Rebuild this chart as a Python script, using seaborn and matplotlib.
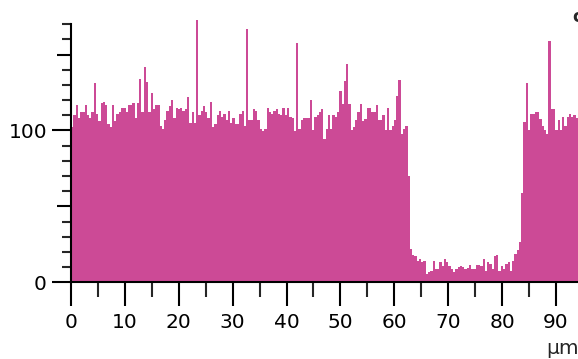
import numpy as np
import pandas as pd
import matplotlib
matplotlib.use("Agg")
import matplotlib.pyplot as plt
import seaborn as sns

# Line-profile intensity, one value per sample along the scan line
step_um = 0.422  # sampling step along the profile (µm)

profile_a = [102, 110, 117, 108, 112, 112, 117, 110, 108, 112, 131, 111, 106, 118,
             119, 117, 104, 102, 117, 106, 111, 112, 115, 115, 112, 117, 117, 118,
             108, 118, 134, 112, 142, 132, 112, 125, 114, 117]
profile_b = [117, 103, 101, 107, 113, 116, 120, 108, 115, 114, 115, 113, 114, 122,
             105, 112, 105, 173, 110, 113, 116, 112, 108, 119, 102, 104, 110, 113,
             109, 111, 107, 113, 105, 108, 104, 104, 111, 113]
profile_c = [103, 167, 107, 107, 114, 113, 107, 101, 99.5, 101, 115, 112, 111, 113,
             114, 111, 110, 115, 110, 115, 109, 108, 99.5, 158, 101, 107, 108, 108,
             108, 120, 100, 109, 110, 112, 114, 94.5, 101, 110]
profile_d = [101, 110, 109, 112.5, 126, 117.6, 132.5, 144, 117.6, 100, 102.6, 106.6,
             112, 117.6, 106, 107.7, 115, 115, 112, 112, 117, 106.6, 106.6, 110,
             100.5, 115, 100, 103, 107, 123, 133, 98, 101, 103]
profile_gap = [70, 22, 17.6, 17, 14.3, 15, 13.2, 14.3, 5.5, 7, 7.7, 14.3, 8.8, 8.8,
               13.2, 11, 15, 13.2, 11, 9, 6.8, 9, 10, 11, 10, 9, 9.5, 11.5, 9, 9,
               11.5, 11.5, 10.6, 15, 7.7, 13, 12, 9, 17, 17.6, 7.7, 11, 9, 12, 13.5,
               7.7, 14.3, 18.7, 21, 26.4, 59]
profile_e = [105.5, 131, 100, 111, 111, 112.5, 112.5, 107.7, 103, 100, 98, 159, 114,
             114, 100, 106.6, 100, 109, 103, 109, 111, 109, 110, 108]

x_major = [0, 10, 20, 30, 40, 50, 60, 70, 80, 90]
x_labels = ["0", "10", "20", "30", "40", "50", "60", "70", "80", "90"]
y_major = [0, 50, 100, 150]
y_labels = ["0", "", "100", ""]
x_unit = "µm"

values = np.array(profile_a + profile_b + profile_c + profile_d + profile_gap + profile_e,
                  dtype=float)
n_bins = len(values)
centers = (np.arange(n_bins) + 0.5) * step_um
df = pd.DataFrame({"position": centers, "intensity": values})

FILL = "#CC4A96"

sns.set_style("ticks")
plt.rcParams["font.family"] = ["DejaVu Sans"]

W, H = 578, 359
fig = plt.figure(figsize=(W / 100, H / 100), dpi=100)
y_top = 176
ax = fig.add_axes([71 / W, (H - 282.2) / H, (W - 71) / W, (282.2 - 15.2) / H])

sns.histplot(data=df, x="position", weights="intensity", bins=n_bins,
             binrange=(0, n_bins * step_um), element="step", fill=True,
             color=FILL, alpha=1, linewidth=0, ax=ax)

ax.set_xlim(0, 94.1)
ax.set_ylim(0, y_top)
ax.set_xlabel("")
ax.set_ylabel("")
for s in ("top", "right"):
    ax.spines[s].set_visible(False)
for s in ("left", "bottom"):
    ax.spines[s].set_linewidth(1.5)
    ax.spines[s].set_color("black")
ax.spines["left"].set_bounds(0, 170.5)

ax.set_xticks(x_major)
ax.set_xticklabels(x_labels)
ax.set_xticks(np.arange(5, 94, 10), minor=True)
ax.set_yticks(y_major)
ax.set_yticklabels(y_labels)
ax.set_yticks([v for v in range(10, 171, 10) if v % 50], minor=True)

ax.tick_params(axis="x", which="major", length=17.3, width=1.5, pad=5,
               labelsize=14.5, direction="out", colors="black")
ax.tick_params(axis="x", which="minor", length=10.8, width=1.5, direction="out")
ax.tick_params(axis="y", which="major", length=13.7, width=1.5, pad=3.6,
               labelsize=14.5, direction="out", colors="black")
ax.tick_params(axis="y", which="minor", length=6.5, width=1.5, direction="out")

# unlabelled major ticks on y are drawn shorter
for tick, lab in zip(ax.yaxis.get_major_ticks(), y_labels):
    if not lab:
        tick.tick1line.set_markersize(10)

fig.text(546 / W, 1 - 349 / H, x_unit, fontsize=14.5, ha="left", va="center")
fig.text(572 / W, 1 - 17 / H, "c", fontsize=12, fontweight="bold",
         ha="left", va="center")

fig.savefig("out.png", dpi=100)
